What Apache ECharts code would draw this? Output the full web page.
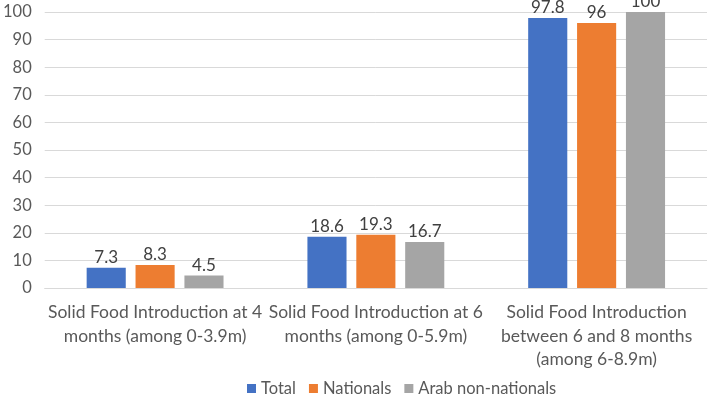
<!DOCTYPE html>
<html>
<head>
<meta charset="utf-8">
<script src="https://cdn.jsdelivr.net/npm/echarts@6/dist/echarts.min.js"></script>
<style>
  html, body { margin: 0; padding: 0; background: #fff; }
  #chart { width: 708px; height: 402px; }
</style>
</head>
<body>
<div id="chart"></div>
<script>
// categories (line breaks as in the original)
var categories = [
  'Solid Food Introduction at 4\nmonths (among 0-3.9m)',
  'Solid Food Introduction at 6\nmonths (among 0-5.9m)',
  'Solid Food Introduction\nbetween 6 and 8 months\n(among 6-8.9m)'
];
var seriesNames = ['Total', 'Nationals', 'Arab non-nationals'];
var totalVals = [7.3, 18.6, 97.8];
var nationalVals = [8.3, 19.3, 96];
var arabVals = [4.5, 16.7, 100];

var colors = ['#4472C4', '#ED7D31', '#A5A5A5'];
var font = 'Lato';

function makeSeries(name, data) {
  return {
    name: name,
    type: 'bar',
    data: data,
    barGap: '25%',
    barCategoryGap: '38%',
    label: {
      show: true,
      position: 'top',
      distance: 2,
      color: '#404040',
      fontFamily: font,
      fontSize: 17
    }
  };
}

var chart = echarts.init(document.getElementById('chart'));
chart.setOption({
  animation: false,
  color: colors,
  grid: { left: 44, right: 1, top: 12, bottom: 114 },
  legend: {
    bottom: 0,
    left: 242,
    icon: 'rect',
    itemWidth: 9,
    itemHeight: 9,
    itemGap: 13,
    itemTextGap: 4,
    textStyle: { color: '#595959', fontFamily: font, fontSize: 16.5 },
    data: seriesNames
  },
  xAxis: {
    type: 'category',
    data: categories,
    axisLine: { lineStyle: { color: '#d9d9d9' } },
    axisTick: { show: false },
    axisLabel: {
      color: '#595959',
      fontFamily: font,
      fontSize: 17.5,
      lineHeight: 23.5,
      margin: 13,
      interval: 0
    }
  },
  yAxis: {
    type: 'value',
    min: 0,
    max: 100,
    interval: 10,
    axisLine: { show: false },
    axisTick: { show: false },
    splitLine: { lineStyle: { color: '#d9d9d9' } },
    axisLabel: { color: '#595959', fontFamily: font, fontSize: 16.5, margin: 13 }
  },
  series: [
    makeSeries(seriesNames[0], totalVals),
    makeSeries(seriesNames[1], nationalVals),
    makeSeries(seriesNames[2], arabVals)
  ]
});
</script>
</body>
</html>
